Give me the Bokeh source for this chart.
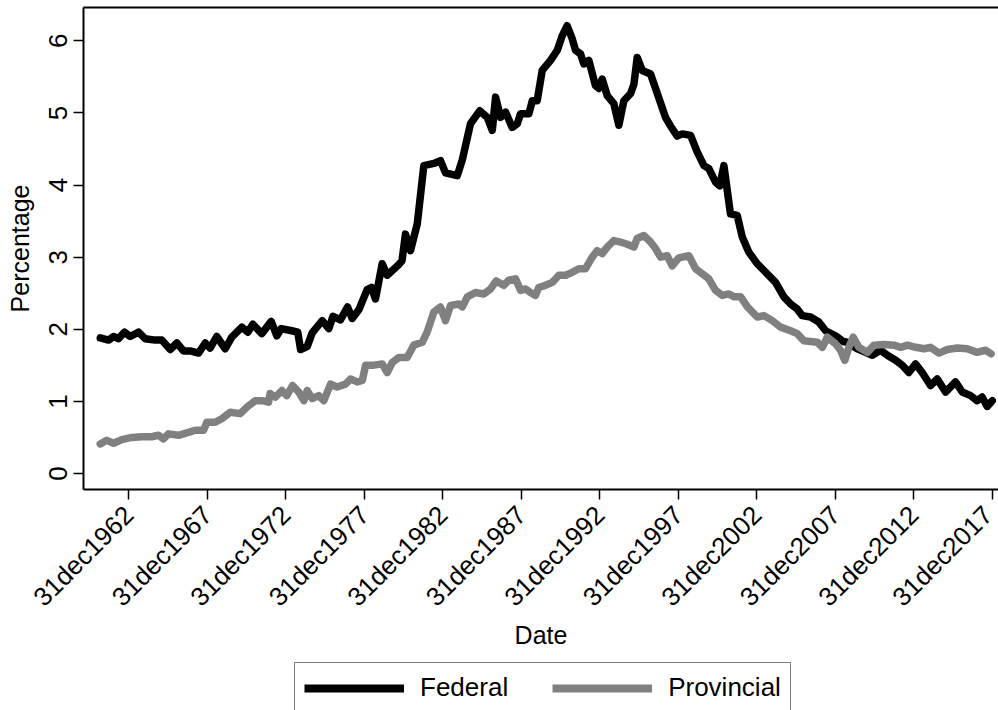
import math
from bokeh.plotting import figure
from bokeh.layouts import column
from bokeh.models import Range1d, FixedTicker, LinearAxis, Legend, LegendItem
from bokeh.embed import file_html
from bokeh.resources import INLINE

# ---------------- data ----------------
fed_year = [1961.18, 1961.71, 1962.03, 1962.34, 1962.73, 1963.09, 1963.62, 1964.04, 1964.68, 1965.10,
            1965.64, 1966.06, 1966.48, 1966.91, 1967.44, 1967.87, 1968.18, 1968.60, 1969.14, 1969.56,
            1970.20, 1970.58, 1970.90, 1971.47, 1972.07, 1972.43, 1972.71, 1973.38, 1973.76, 1973.94,
            1974.36, 1974.68, 1975.32, 1975.74, 1976.00, 1976.48, 1976.93, 1977.23, 1977.65, 1978.18,
            1978.45, 1978.71, 1979.14, 1979.46, 1980.20, 1980.40, 1980.62, 1980.94, 1981.37, 1981.79,
            1982.43, 1982.85, 1983.17, 1983.92, 1984.24, 1984.76, 1985.35, 1985.83, 1986.15, 1986.36,
            1986.68, 1987.00, 1987.42, 1987.74, 1987.95, 1988.48, 1988.70, 1989.01, 1989.33, 1989.86,
            1990.29, 1990.60, 1990.92, 1991.24, 1991.45, 1991.77, 1991.98, 1992.30, 1992.72, 1992.94,
            1993.15, 1993.47, 1993.89, 1994.21, 1994.53, 1994.96, 1995.17, 1995.38, 1995.70, 1996.23,
            1996.66, 1997.18, 1997.50, 1997.93, 1998.25, 1998.78, 1999.20, 1999.63, 1999.94, 2000.37,
            2000.64, 2000.90, 2001.32, 2001.75, 2002.07, 2002.49, 2003.02, 2003.66, 2004.19, 2004.72,
            2005.15, 2005.57, 2005.89, 2006.42, 2006.95, 2007.38, 2008.01, 2008.50, 2008.76, 2009.40,
            2009.93, 2010.35, 2010.88, 2011.31, 2011.84, 2012.26, 2012.68, 2013.11, 2013.53, 2014.06,
            2014.49, 2015.02, 2015.65, 2016.08, 2016.61, 2017.03, 2017.35, 2017.67, 2017.99]
fed_value = [1.88, 1.85, 1.90, 1.87, 1.96, 1.90, 1.96, 1.87, 1.85, 1.85,
             1.72, 1.81, 1.70, 1.70, 1.67, 1.81, 1.74, 1.90, 1.73, 1.89,
             2.03, 1.96, 2.07, 1.94, 2.11, 1.91, 2.01, 1.98, 1.96, 1.72,
             1.76, 1.95, 2.12, 2.01, 2.18, 2.13, 2.31, 2.15, 2.27, 2.55,
             2.58, 2.42, 2.91, 2.75, 2.90, 2.95, 3.32, 3.09, 3.46, 4.27,
             4.30, 4.34, 4.17, 4.13, 4.35, 4.85, 5.03, 4.94, 4.76, 5.22,
             4.94, 5.01, 4.80, 4.85, 4.99, 4.99, 5.17, 5.17, 5.59, 5.73,
             5.87, 6.07, 6.21, 6.03, 5.87, 5.82, 5.68, 5.73, 5.38, 5.34,
             5.47, 5.24, 5.13, 4.83, 5.17, 5.27, 5.40, 5.77, 5.59, 5.54,
             5.27, 4.94, 4.82, 4.68, 4.71, 4.69, 4.46, 4.27, 4.23, 4.04,
             3.99, 4.27, 3.60, 3.58, 3.28, 3.07, 2.91, 2.77, 2.65, 2.45,
             2.35, 2.28, 2.19, 2.17, 2.10, 1.98, 1.91, 1.83, 1.82, 1.73,
             1.68, 1.64, 1.71, 1.64, 1.57, 1.50, 1.40, 1.52, 1.40, 1.22,
             1.31, 1.13, 1.27, 1.13, 1.08, 1.01, 1.06, 0.93, 1.01]

prov_year = [1961.18, 1961.60, 1962.03, 1962.55, 1963.19, 1963.83, 1964.46, 1964.89, 1965.21, 1965.53,
             1966.17, 1966.80, 1967.23, 1967.76, 1967.97, 1968.50, 1968.92, 1969.46, 1970.10, 1970.52,
             1971.05, 1971.47, 1971.90, 1972.00, 1972.33, 1972.75, 1973.06, 1973.43, 1973.83, 1974.15,
             1974.36, 1974.68, 1975.10, 1975.42, 1975.85, 1976.27, 1976.80, 1977.12, 1977.55, 1977.87,
             1978.08, 1978.50, 1979.14, 1979.46, 1979.78, 1980.20, 1980.73, 1981.15, 1981.69, 1982.00,
             1982.43, 1982.85, 1983.17, 1983.49, 1984.02, 1984.24, 1984.56, 1985.08, 1985.61, 1986.04,
             1986.40, 1986.88, 1987.20, 1987.63, 1987.95, 1988.27, 1988.58, 1988.90, 1989.11, 1989.54,
             1989.97, 1990.39, 1990.82, 1991.24, 1991.66, 1992.09, 1992.51, 1992.83, 1993.15, 1993.47,
             1993.89, 1994.32, 1994.75, 1995.17, 1995.38, 1995.80, 1996.23, 1996.55, 1996.87, 1997.29,
             1997.61, 1998.03, 1998.67, 1999.10, 1999.52, 1999.94, 2000.37, 2000.80, 2001.22, 2001.54,
             2001.97, 2002.40, 2003.03, 2003.45, 2003.98, 2004.51, 2005.15, 2005.57, 2006.00, 2006.42,
             2006.85, 2007.17, 2007.49, 2008.01, 2008.33, 2008.60, 2008.86, 2009.14, 2009.50, 2010.04,
             2010.46, 2011.10, 2011.74, 2012.16, 2012.59, 2013.11, 2013.64, 2014.06, 2014.60, 2015.13,
             2015.77, 2016.40, 2017.03, 2017.56, 2017.92]
prov_value = [0.41, 0.46, 0.42, 0.47, 0.50, 0.51, 0.51, 0.53, 0.48, 0.55,
              0.53, 0.57, 0.60, 0.60, 0.71, 0.71, 0.76, 0.85, 0.83, 0.92,
              1.01, 1.01, 0.99, 1.11, 1.06, 1.15, 1.08, 1.22, 1.13, 1.01,
              1.15, 1.04, 1.08, 1.01, 1.24, 1.20, 1.24, 1.31, 1.27, 1.29,
              1.50, 1.50, 1.52, 1.40, 1.54, 1.61, 1.61, 1.78, 1.82, 1.96,
              2.24, 2.31, 2.12, 2.33, 2.35, 2.31, 2.45, 2.51, 2.49, 2.56,
              2.67, 2.61, 2.68, 2.70, 2.54, 2.56, 2.51, 2.47, 2.58, 2.61,
              2.65, 2.75, 2.75, 2.79, 2.84, 2.84, 3.00, 3.09, 3.05, 3.14,
              3.23, 3.21, 3.18, 3.14, 3.26, 3.30, 3.21, 3.12, 3.00, 3.02,
              2.88, 2.99, 3.02, 2.84, 2.77, 2.70, 2.54, 2.47, 2.49, 2.45,
              2.45, 2.31, 2.17, 2.19, 2.12, 2.03, 1.98, 1.94, 1.84, 1.83,
              1.82, 1.75, 1.89, 1.80, 1.71, 1.57, 1.75, 1.89, 1.75, 1.68,
              1.78, 1.79, 1.78, 1.75, 1.78, 1.75, 1.73, 1.75, 1.67, 1.72,
              1.74, 1.73, 1.68, 1.71, 1.66]

tick_year = [1962, 1967, 1972, 1977, 1982, 1987, 1992, 1997, 2002, 2007, 2012, 2017]
tick_label = ["31dec%d" % y for y in tick_year]
y_ticks = [0, 1, 2, 3, 4, 5, 6]
series_names = ["Federal", "Provincial"]
series_colors = ["black", "#808080"]
series_x = [fed_year, prov_year]
series_y = [fed_value, prov_value]

FONT = "Liberation Sans"
LW = 7.5

# tick sits at the end of each labelled year
tick_pos = [y + 1 for y in tick_year]

p = figure(width=998, height=662, output_backend="svg", toolbar_location=None,
           x_range=Range1d(1960.115, 2018.39), y_range=Range1d(-0.222, 6.463),
           min_border_left=83, min_border_right=0, min_border_top=7, min_border_bottom=173,
           x_axis_label="Date", y_axis_label="Percentage")
p.outline_line_color = None
p.grid.visible = False
p.background_fill_color = "white"
p.border_fill_color = "white"

for xs, ys, col in zip(series_x, series_y, series_colors):
    p.line(xs, ys, line_color=col, line_width=LW, line_join="round", line_cap="round")

for ax in (p.xaxis[0], p.yaxis[0]):
    ax.axis_line_width = 2
    ax.axis_line_color = "black"
    ax.major_tick_line_width = 1.5
    ax.major_tick_line_color = "black"
    ax.major_tick_out = 10
    ax.major_tick_in = 0
    ax.minor_tick_line_color = None
    ax.major_label_text_font = FONT
    ax.major_label_text_color = "black"
    ax.major_label_text_font_size = "26px"
    ax.axis_label_text_font = FONT
    ax.axis_label_text_font_style = "normal"
    ax.axis_label_text_color = "black"
    ax.axis_label_text_font_size = "25px"

xa = p.xaxis[0]
xa.ticker = FixedTicker(ticks=tick_pos)
xa.major_label_overrides = {t: l for t, l in zip(tick_pos, tick_label)}
xa.major_label_orientation = math.pi / 4
xa.major_label_standoff = 11
xa.axis_label_standoff = -5

ya = p.yaxis[0]
ya.ticker = FixedTicker(ticks=y_ticks)
ya.major_label_orientation = "vertical"
ya.major_label_standoff = 6
ya.axis_label_standoff = 13

top = LinearAxis(ticker=FixedTicker(ticks=[]), axis_line_width=2, axis_line_color="black",
                 major_tick_out=0, major_tick_in=0, minor_tick_out=0, minor_tick_in=0,
                 major_label_standoff=0, major_label_text_font_size="0px")
p.add_layout(top, "above")

# ---------------- legend strip under the chart ----------------
# the series are re-drawn here only so that the legend has renderers; the
# strip's ranges keep them outside its (invisible) frame
lg = figure(width=998, height=48, output_backend="svg", toolbar_location=None,
            x_range=Range1d(0, 1), y_range=Range1d(0, 1), min_border=0,
            x_axis_location=None, y_axis_location=None)
lg.outline_line_color = None
lg.grid.visible = False
lg.background_fill_color = "white"
lg.border_fill_color = "white"

items = []
for name, xs, ys, col in zip(series_names, series_x, series_y, series_colors):
    r = lg.line(xs, ys, line_color=col, line_width=8)
    items.append(LegendItem(label=name, renderers=[r]))

legend = Legend(items=items, orientation="horizontal", location=(211, -3),
                label_text_font=FONT, label_text_font_size="26px", label_text_color="black",
                glyph_width=100, glyph_height=30, label_standoff=16, spacing=44,
                padding=9, margin=0, border_line_color="black", border_line_width=1.5,
                background_fill_color="white", background_fill_alpha=1.0)
lg.add_layout(legend, "center")

page = column(p, lg, spacing=0)
open("out.html", "w").write(file_html(page, INLINE))
